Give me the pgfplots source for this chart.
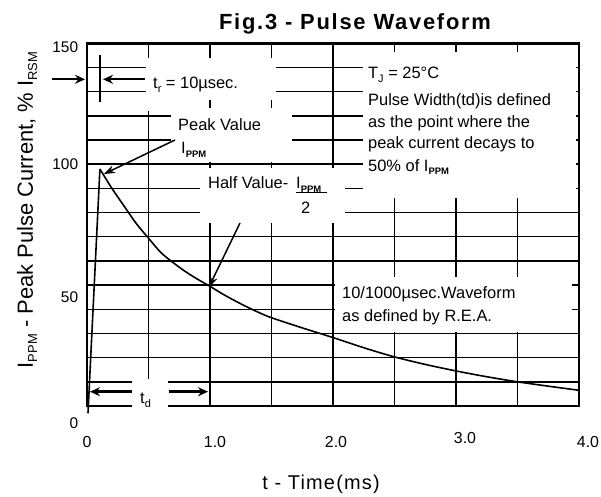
\documentclass[border=0pt]{standalone}
\usepackage{pgfplots}
\pgfplotsset{compat=1.18}
\usepackage{fontspec}
\setmainfont{Liberation Sans}
\newfontfamily\titlefont[LetterSpace=8]{Liberation Sans}
\newfontfamily\spacedfont[LetterSpace=6]{Liberation Sans}
\usetikzlibrary{arrows.meta}
\newcommand\sbs[2]{\raisebox{-0.35ex}{\fontsize{#1}{#1}\selectfont #2}}
\newcommand\sbb[2]{\raisebox{-0.35ex}{\fontsize{#1}{#1}\selectfont\bfseries #2}}
\begin{document}
\begin{tikzpicture}
\useasboundingbox (-87bp,-91bp) rectangle (514bp,406bp);
\begin{axis}[
  at={(0,0)}, anchor=south west,
  scale only axis, width=492bp, height=362.7bp,
  xmin=0, xmax=4, ymin=0, ymax=150,
  clip=false,
  axis line style={line width=2.8bp},
  xtick={0,1,2,3,4},
  xticklabels={0,\hspace{10bp}1.0,\hspace{6bp}2.0,\hspace{18bp}\raisebox{4bp}{3.0},\hspace{18bp}4.0},
  ytick={0,50,100,150},
  yticklabels={\raisebox{-22.3bp}{0}\hspace{11.6bp},\raisebox{-17.8bp}{50}\hspace{5.3bp},\raisebox{-5.5bp}{100},\raisebox{-9bp}{150}},
  minor xtick={0.5,1,...,3.5},
  minor ytick={10,20,...,140},
  xmajorgrids=false, ymajorgrids=false,
  xminorgrids=true, yminorgrids=true,
  minor grid style={black, line width=1.4bp},
  major tick length=0pt, minor tick length=0pt,
  xticklabel style={anchor=base, inner sep=0pt, yshift=-41.4bp, font=\fontsize{16}{16}\selectfont},
  yticklabel style={anchor=base east, inner sep=0pt, xshift=-8.7bp, font=\fontsize{15.5}{15.5}\selectfont},
  /pgf/number format/assume math mode=true,
]
\addplot[black, line width=1.6bp] coordinates {(0.008,-3) (0.105,98)};
\addplot[black, line width=1.6bp, smooth] coordinates {
  (0.105,98) (0.2,90.2) (0.3,82.8) (0.4,75.5) (0.5,69.4) (0.6,63.5)
  (0.7,59.3) (0.8,55.6) (0.9,52.4) (1.0,49.5) (1.1,46.4) (1.2,43.6)
  (1.3,41.0) (1.4,38.6) (1.5,36.5) (1.75,32.3) (2.0,28.3) (2.25,24.1)
  (2.5,20.3) (2.75,17.2) (3.0,14.5) (3.25,12.1) (3.5,10.0) (3.75,8.2) (4.0,6.5)};
\end{axis}
\begin{scope}[x=1bp, y=-1bp, shift={(-87bp,406bp)}]
  % white label boxes
  \fill[white] (146,58) rectangle (276,100);
  \fill[white] (146,100) rectangle (166,111);
  \fill[white] (171,108) rectangle (292,162);
  \fill[white] (363,52) rectangle (576,198);
  \fill[white] (200,168) rectangle (345,223);
  \fill[white] (335,277) rectangle (572,332);
  \fill[white] (132,379) rectangle (168,411);
  % title and axis labels
  \node[anchor=base, inner sep=0pt, font=\titlefont\fontsize{22}{22}\selectfont\bfseries] at (355,29.5) {Fig.3 - Pulse Waveform};
  \node[anchor=base, inner sep=0pt, font=\spacedfont\fontsize{20}{20}\selectfont] at (321,490) {t - Time(ms)};
  \node[anchor=base, inner sep=0pt, rotate=90, font=\fontsize{22}{22}\selectfont] at (33,210) {I\sbs{13}{PPM} - Peak Pulse Current, \% I\sbs{13}{RSM}};
  % annotations
  \begin{scope}[every node/.style={anchor=base west, inner sep=0pt, font=\fontsize{16.5}{16.5}\selectfont}]
    \node at (153,89) {t\sbs{11}{r} = 10µsec.};
    \node at (178,131) {Peak Value};
    \node at (181,154) {I\sbb{9.5}{PPM}};
    \node at (368,79) {T\sbs{11}{J} = 25°C};
    \node at (368,106) {Pulse Width(td)is defined};
    \node at (368,127.5) {as the point where the};
    \node at (368,149) {peak current decays to};
    \node at (368,171.5) {50\% of I\sbb{9.5}{PPM}};
    \node at (208,189) {Half Value-};
    \node at (296,189) {I\sbb{9.5}{PPM}};
    \node at (301,214) {2};
    \node at (342,299) {10/1000µsec.Waveform};
    \node at (342,322) {as defined by R.E.A.};
    \node at (140,404) {t\sbs{11}{d}};
  \end{scope}
  \draw[line width=1.2bp] (296,192.7) -- (327,192.7);
  % arrows
  \draw[line width=2.2bp, -{Stealth[length=10bp,width=9bp]}] (52,79.3) -- (85,79.3);
  \draw[line width=2.5bp] (100,55) -- (100,102);
  \draw[line width=2.2bp, -{Stealth[length=10bp,width=9bp]}] (145,79.3) -- (103,79.3);
  \draw[line width=1.5bp, -{Stealth[length=11bp,width=8bp]}] (175,140) -- (104,174);
  \draw[line width=1.5bp, -{Stealth[length=11bp,width=8bp]}] (240,223) -- (209,287);
  \draw[line width=2.5bp, -{Stealth[length=10bp,width=9bp]}] (131.7,391.7) -- (90,391.7);
  \draw[line width=2.5bp, -{Stealth[length=10bp,width=9bp]}] (168.6,391.7) -- (208,391.7);
\end{scope}
\end{tikzpicture}
\end{document}
